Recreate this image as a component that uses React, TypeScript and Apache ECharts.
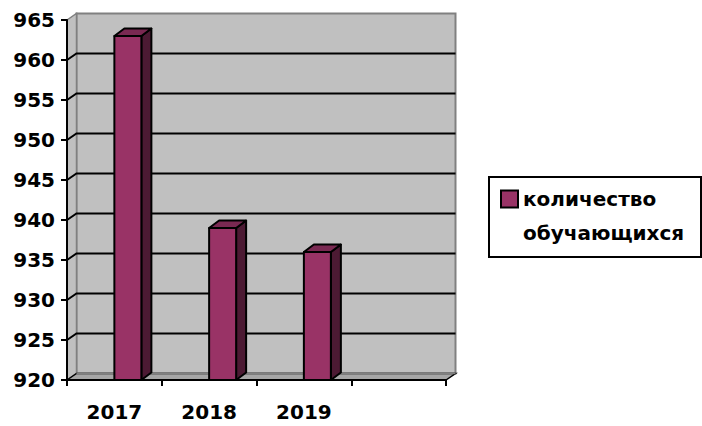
import React, { useEffect, useRef } from "react";
import * as echarts from "echarts";

const CATEGORIES = ["2017", "2018", "2019", ""];
const VALUES = [963, 939, 936];
const Y_MIN = 920;
const Y_MAX = 965;
const Y_STEP = 5;
const SERIES_NAME = "количество обучающихся";
const LEGEND_LINE1 = "количество";
const LEGEND_LINE2 = "обучающихся";

const FONT = "DejaVu Sans";
const BAR_COLOR = "#993366";
const BAR_TOP = "#7a2952";
const BAR_SIDE = "#4c1a33";
const WALL = "#c0c0c0";
const WALL_EDGE = "#808080";
const FLOOR = "#a6a6a6";
const FDX = 9.5;
const FDY = -6.5;
const BDX = 10;
const BDY = -7.5;

export default function App() {
  const ref = useRef<HTMLDivElement>(null);
  useEffect(() => {
    if (!ref.current) return;
    const chart = echarts.init(ref.current, null, { renderer: "svg" });
    const gridVals: number[] = [];
    for (let v = Y_MIN + Y_STEP; v < Y_MAX; v += Y_STEP) gridVals.push(v);

    const option: any = {
      animation: false,
      backgroundColor: "#fff",
      textStyle: { fontFamily: FONT },
      grid: { left: 67, top: 20, width: 379, height: 360, containLabel: false },
      xAxis: {
        type: "category",
        data: CATEGORIES,
        boundaryGap: true,
        z: 5,
        axisLine: { show: true, lineStyle: { color: "#000", width: 2 } },
        axisTick: { show: true, length: 6, lineStyle: { color: "#000", width: 2 } },
        axisLabel: { color: "#000", fontFamily: FONT, fontWeight: "bold", fontSize: 20, margin: 22 },
        splitLine: { show: false },
      },
      yAxis: {
        type: "value",
        min: Y_MIN,
        max: Y_MAX,
        interval: Y_STEP,
        z: 5,
        axisLine: { show: true, lineStyle: { color: "#000", width: 2 } },
        axisTick: { show: true, length: 6, lineStyle: { color: "#000", width: 2 } },
        axisLabel: { color: "#000", fontFamily: FONT, fontWeight: "bold", fontSize: 20, margin: 12 },
        splitLine: { show: false },
      },
      legend: {
        show: true,
        left: 500,
        top: 189,
        z: 10,
        padding: 0,
        itemWidth: 17,
        itemHeight: 17,
        icon: "rect",
        data: [SERIES_NAME],
        formatter: () => LEGEND_LINE1,
        itemStyle: { borderColor: "#000", borderWidth: 2 },
        textStyle: { color: "#000", fontFamily: FONT, fontWeight: "bold", fontSize: 20 },
        selectedMode: false,
      },
      graphic: [
        {
          type: "rect",
          z: 1,
          shape: { x: 489, y: 177, width: 212, height: 80 },
          style: { fill: "#fff", stroke: "#000", lineWidth: 2 },
        },
        {
          type: "text",
          z: 11,
          x: 523,
          y: 233,
          style: {
            text: LEGEND_LINE2,
            fill: "#000",
            font: `bold 20px "${FONT}"`,
            verticalAlign: "middle",
            align: "left",
          },
        },
      ],
      series: [
        {
          type: "custom",
          name: "frame",
          z: 1,
          clip: false,
          silent: true,
          data: [[0, Y_MIN]],
          renderItem: (params: any, api: any) => {
            const cs = params.coordSys;
            const x = cs.x, y = cs.y, w = cs.width, h = cs.height;
            const children: any[] = [];
            // back wall
            children.push({
              type: "rect",
              shape: { x: x + FDX, y: y + FDY, width: w, height: h },
              style: { fill: WALL, stroke: WALL_EDGE, lineWidth: 2 },
            });
            // side wall
            children.push({
              type: "polygon",
              shape: { points: [[x, y], [x + FDX, y + FDY], [x + FDX, y + h + FDY], [x, y + h]] },
              style: { fill: WALL, stroke: WALL_EDGE, lineWidth: 1.5 },
            });
            // floor
            children.push({
              type: "polygon",
              shape: { points: [[x, y + h], [x + FDX, y + h + FDY], [x + w + FDX, y + h + FDY], [x + w, y + h]] },
              style: { fill: FLOOR, stroke: "#000", lineWidth: 1.5 },
            });
            children.push({
              type: "line",
              shape: { x1: x + FDX, y1: y + h + FDY, x2: x + w + FDX, y2: y + h + FDY },
              style: { stroke: WALL_EDGE, lineWidth: 1.5 },
            });
            // grid lines
            gridVals.forEach((v) => {
              const py = api.coord([0, v])[1];
              children.push({
                type: "polyline",
                shape: { points: [[x, py], [x + FDX, py + FDY], [x + w + FDX, py + FDY]] },
                style: { stroke: "#000", lineWidth: 2, fill: "none" },
              });
            });
            return { type: "group", children };
          },
        },
        {
          type: "custom",
          name: SERIES_NAME,
          z: 3,
          clip: false,
          itemStyle: { color: BAR_COLOR },
          encode: { x: 0, y: 1 },
          data: VALUES.map((v, i) => [i, v]),
          renderItem: (params: any, api: any) => {
            const idx = api.value(0);
            const top = api.coord([idx, api.value(1)]);
            const bottom = api.coord([idx, Y_MIN]);
            const band = api.size([1, 0])[0];
            const bw = band * 0.285;
            const x0 = top[0];
            const x1 = x0 + bw;
            const yt = top[1];
            const yb = bottom[1];
            const edge = { stroke: "#000", lineWidth: 2, lineJoin: "round" };
            return {
              type: "group",
              children: [
                {
                  type: "polygon",
                  shape: { points: [[x1, yt], [x1 + BDX, yt + BDY], [x1 + BDX, yb + BDY], [x1, yb]] },
                  style: { fill: BAR_SIDE, ...edge },
                },
                {
                  type: "polygon",
                  shape: { points: [[x0, yt], [x1, yt], [x1 + BDX, yt + BDY], [x0 + BDX, yt + BDY]] },
                  style: { fill: BAR_TOP, ...edge },
                },
                {
                  type: "rect",
                  shape: { x: x0, y: yt, width: bw, height: yb - yt },
                  style: { fill: BAR_COLOR, ...edge },
                },
              ],
            };
          },
        },
      ],
    };
    chart.setOption(option);
    return () => chart.dispose();
  }, []);
  return <div ref={ref} style={{ width: 702, height: 426, position: "absolute", left: 0, top: 0 }} />;
}
